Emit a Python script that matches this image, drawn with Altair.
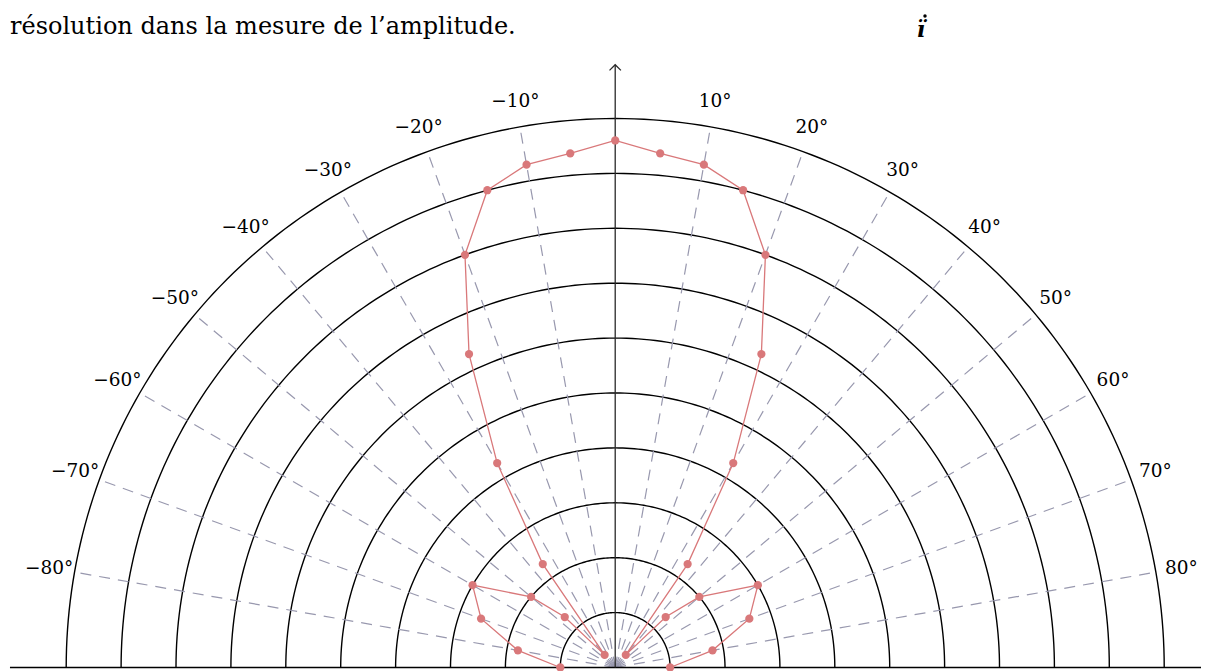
import altair as alt
import pandas as pd

# ---- data ----
angles = [-90, -80, -70, -60, -50, -45, -40, -35, -30, -25, -20, -15, -10, -5, 0,
          5, 10, 15, 20, 25, 30, 35, 40, 45, 50, 60, 70, 80, 90]
radii = [1.0, 1.8, 2.6, 3.0, 2.0, 1.3, 0.3, 2.3, 4.3, 6.3, 8.0, 9.0, 9.3, 9.4, 9.6,
         9.4, 9.3, 9.0, 8.0, 6.3, 4.3, 2.3, 0.3, 1.3, 2.0, 3.0, 2.6, 1.8, 1.0]
circle_radii = [1, 2, 3, 4, 5, 6, 7, 8, 9, 10]
spoke_angles = [-80, -70, -60, -50, -40, -30, -20, -10, 10, 20, 30, 40, 50, 60, 70, 80]
label_angles = [-80, -70, -60, -50, -40, -30, -20, -10, 10, 20, 30, 40, 50, 60, 70, 80]
label_texts = ["−80°", "−70°", "−60°", "−50°", "−40°", "−30°", "−20°", "−10°",
               "10°", "20°", "30°", "40°", "50°", "60°", "70°", "80°"]
label_radius = 10.47
outer_radius = 10
caption = "résolution dans la mesure de l’amplitude."

W, H = 1193, 663
XDOM = [-11.060, 10.670]
YDOM = [-0.0638, 12.013]
xs = alt.Scale(domain=XDOM, nice=False, zero=False)
ys = alt.Scale(domain=YDOM, nice=False, zero=False)
X = lambda f: alt.X(f, type="quantitative", scale=xs, axis=None)
Y = lambda f: alt.Y(f, type="quantitative", scale=ys, axis=None)

pts = pd.DataFrame({"angle": angles, "r": radii})
circ = pd.DataFrame([(r, a) for r in circle_radii for a in range(-90, 91)],
                    columns=["r", "a"])
spokes = pd.DataFrame({"a": spoke_angles, "r": [outer_radius] * len(spoke_angles)})
labels = pd.DataFrame({"a": label_angles, "t": label_texts,
                       "r": [label_radius] * len(label_angles)})

polar = dict(px="datum.r*sin(datum.a*PI/180)", py="datum.r*cos(datum.a*PI/180)")

circles = alt.Chart(circ).transform_calculate(**polar).mark_line(
    color="black", strokeWidth=1.4
).encode(x=X("px"), y=Y("py"), detail="r:N", order="a:Q")

spk = alt.Chart(spokes).transform_calculate(**polar, zx="0", zy="0").mark_rule(
    color="#9898ae", strokeWidth=1.2, strokeDash=[11, 8]
).encode(x=X("zx"), y=Y("zy"), x2="px:Q", y2="py:Q")

haxis = alt.Chart(pd.DataFrame({"x0": [XDOM[0] + 0.036], "x1": [XDOM[1]], "y": [0]})).mark_rule(
    color="black", strokeWidth=1.4
).encode(x=X("x0"), x2="x1:Q", y=Y("y"))

vaxis = alt.Chart(pd.DataFrame({"x": [0], "y0": [0], "y1": [10.98]})).mark_rule(
    color="#2a2a2a", strokeWidth=1.3
).encode(x=X("x"), y=Y("y0"), y2="y1:Q")

arrow = alt.Chart(pd.DataFrame({"x": [0], "y": [10.98]})).mark_point(
    shape="M-1,1L0,0L1,1", filled=False, stroke="#2a2a2a", strokeWidth=1.3, size=130, opacity=1
).encode(x=X("x"), y=Y("y"))

line = alt.Chart(pts).transform_calculate(
    px="datum.r*sin(datum.angle*PI/180)", py="datum.r*cos(datum.angle*PI/180)"
).mark_line(color="#d9787a", strokeWidth=1.3).encode(
    x=X("px"), y=Y("py"), order="angle:Q")

dots = alt.Chart(pts).transform_calculate(
    px="datum.r*sin(datum.angle*PI/180)", py="datum.r*cos(datum.angle*PI/180)"
).mark_circle(color="#d9787a", size=68, opacity=1).encode(x=X("px"), y=Y("py"))

lbl = alt.Chart(labels).transform_calculate(**polar).mark_text(
    font="DejaVu Serif", fontSize=18.5, color="black", align="center", baseline="middle"
).encode(x=X("px"), y=Y("py"), text="t:N")

cap = alt.Chart(pd.DataFrame({"t": [caption]})).mark_text(
    font="DejaVu Serif", fontSize=24, color="black", align="left", baseline="alphabetic"
).encode(x=alt.value(2), y=alt.value(26), text="t:N")

icon = alt.Chart(pd.DataFrame({"t": ["ï"]})).mark_text(
    font="DejaVu Serif", fontSize=22, fontWeight="bold", fontStyle="italic",
    color="black", align="center", baseline="alphabetic"
).encode(x=alt.value(913), y=alt.value(29), text="t:N")

icon_dot = alt.Chart(pd.DataFrame({"t": [1]})).mark_circle(
    color="black", size=12, opacity=1
).encode(x=alt.value(917), y=alt.value(8))

chart = alt.layer(
    circles, spk, haxis, vaxis, arrow, line, dots, lbl, cap, icon, icon_dot
).properties(
    width=W, height=H, autosize=alt.AutoSizeParams(type="none"), padding=0
).configure_view(stroke=None)

chart.save("out.html", embed_options={"renderer": "svg", "actions": False})
